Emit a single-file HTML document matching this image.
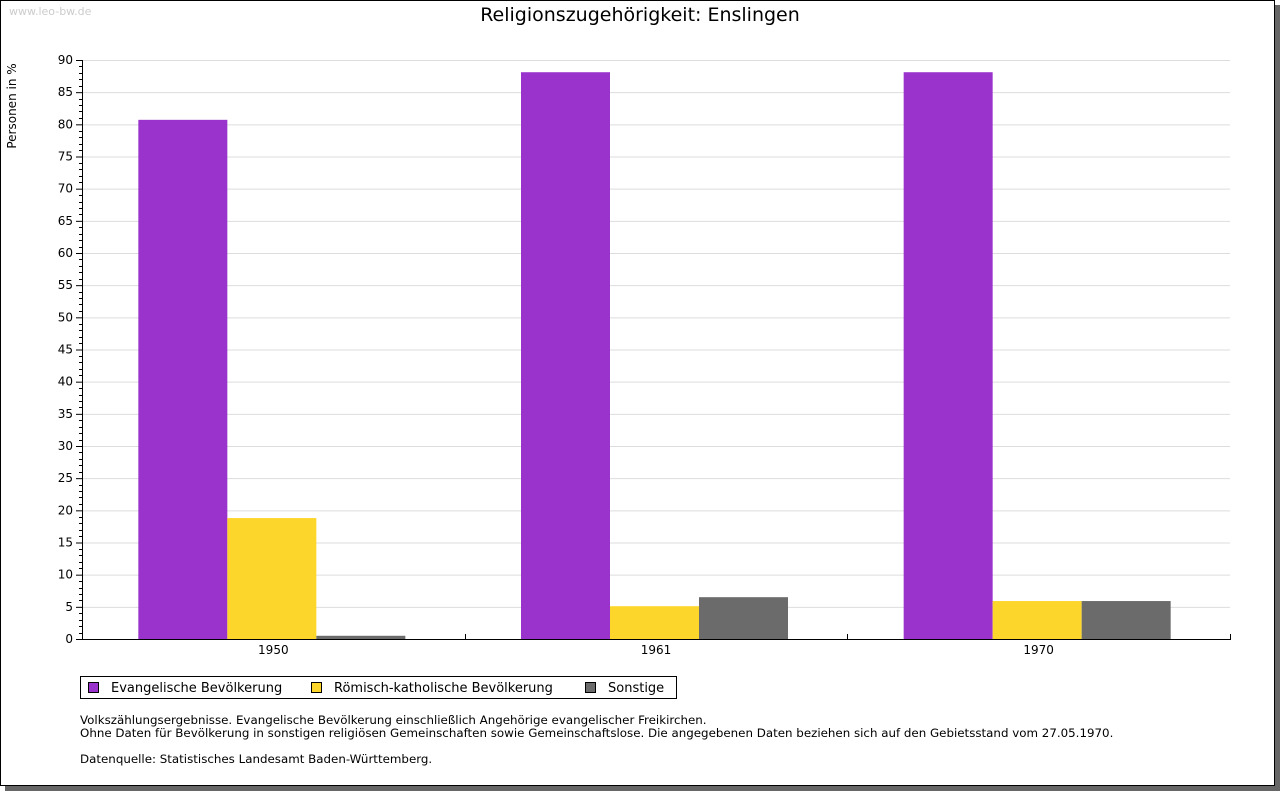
<!DOCTYPE html>
<html><head><meta charset="utf-8"><style>
body{margin:0;background:#fff;width:1280px;height:791px;overflow:hidden;font-family:"DejaVu Sans","Liberation Sans",sans-serif}
</style></head><body>
<svg width="1280" height="791" xmlns="http://www.w3.org/2000/svg" font-family="DejaVu Sans, Liberation Sans, sans-serif">
<rect x="5" y="5" width="1275" height="786" fill="#666"/>
<rect x="0.5" y="0.5" width="1274" height="785" fill="#fff" stroke="#000"/>
<text x="9" y="15" font-size="11" fill="#ccc">www.leo-bw.de</text>
<text x="640" y="21" font-size="19" text-anchor="middle">Religionszugehörigkeit: Enslingen</text>
<text transform="translate(16,106) rotate(-90)" font-size="12" text-anchor="middle">Personen in %</text>
<g id="grid"></g><g id="bars"></g><g id="axes"></g>
<g>
<rect x="80.5" y="676.5" width="596" height="22" fill="#fff" stroke="#000"/>
<rect x="88.5" y="682.5" width="10" height="10" fill="#9933cc" stroke="#000"/>
<text x="111" y="692" font-size="13">Evangelische Bevölkerung</text>
<rect x="311.5" y="682.5" width="10" height="10" fill="#fdd62b" stroke="#000"/>
<text x="334" y="692" font-size="13">Römisch-katholische Bevölkerung</text>
<rect x="585.5" y="682.5" width="10" height="10" fill="#6b6b6b" stroke="#000"/>
<text x="608" y="692" font-size="13">Sonstige</text>
</g>
<g font-size="11.85">
<text x="80" y="724">Volkszählungsergebnisse. Evangelische Bevölkerung einschließlich Angehörige evangelischer Freikirchen.</text>
<text x="80" y="737">Ohne Daten für Bevölkerung in sonstigen religiösen Gemeinschaften sowie Gemeinschaftslose. Die angegebenen Daten beziehen sich auf den Gebietsstand vom 27.05.1970.</text>
<text x="80" y="763">Datenquelle: Statistisches Landesamt Baden-Württemberg.</text>
</g>
</svg>
<script>
const categories=["1950","1961","1970"];
const evangelisch=[80.7,88.1,88.1];
const katholisch=[18.8,5.1,5.9];
const sonstige=[0.5,6.5,5.9];
const yTicks=[0,5,10,15,20,25,30,35,40,45,50,55,60,65,70,75,80,85,90];
const NS="http://www.w3.org/2000/svg";
const L=82,R=1230,T=60,B=639,YMAX=90;
const y=v=>B-(v/YMAX)*(B-T);
const gw=(R-L)/categories.length;
const xc=i=>L+gw*(i+0.5);
function mk(tag,attrs,parent){const e=document.createElementNS(NS,tag);for(const k in attrs)e.setAttribute(k,attrs[k]);parent.appendChild(e);return e;}
const grid=document.getElementById('grid'),bars=document.getElementById('bars'),axes=document.getElementById('axes');
yTicks.forEach(t=>{if(t>0){const l=mk('line',{x1:L,x2:R,y1:y(t)+0.5,y2:y(t)+0.5,stroke:'#ddd'},grid);

}
const tx=mk('text',{x:73,y:y(t)+4,'font-size':12,'text-anchor':'end'},axes);tx.textContent=t;


mk('line',{x1:L-6,x2:L,y1:y(t)+0.5,y2:y(t)+0.5,stroke:'#000'},axes);});
for(let v=0;v<YMAX;v++){if(v%5)mk('line',{x1:L-3,x2:L,y1:Math.round(y(v))+0.5,y2:Math.round(y(v))+0.5,stroke:'#000'},axes);}
const series=[[evangelisch,'#9933cc','evangelisch'],[katholisch,'#fdd62b','katholisch'],[sonstige,'#6b6b6b','sonstige']];
const bw=89;
categories.forEach((c,i)=>{series.forEach((s,j)=>{const x0=xc(i)-1.5*bw+j*bw-1.5;const v=s[0][i];
const r=mk('rect',{x:x0,y:y(v),width:bw,height:B-y(v),fill:s[1]},bars);

});
const tx=mk('text',{x:xc(i),y:654,'font-size':12,'text-anchor':'middle'},axes);tx.textContent=c;


const bx=Math.round(L+gw*(i+1))+0.5;mk('line',{x1:bx,x2:bx,y1:B-5,y2:B,stroke:'#000'},axes);});
const ya=mk('line',{x1:L+0.5,x2:L+0.5,y1:T,y2:B+0.5,stroke:'#000'},axes);


const xa=mk('line',{x1:L,x2:R+1,y1:B+0.5,y2:B+0.5,stroke:'#000'},axes);


</script>
</body></html>
